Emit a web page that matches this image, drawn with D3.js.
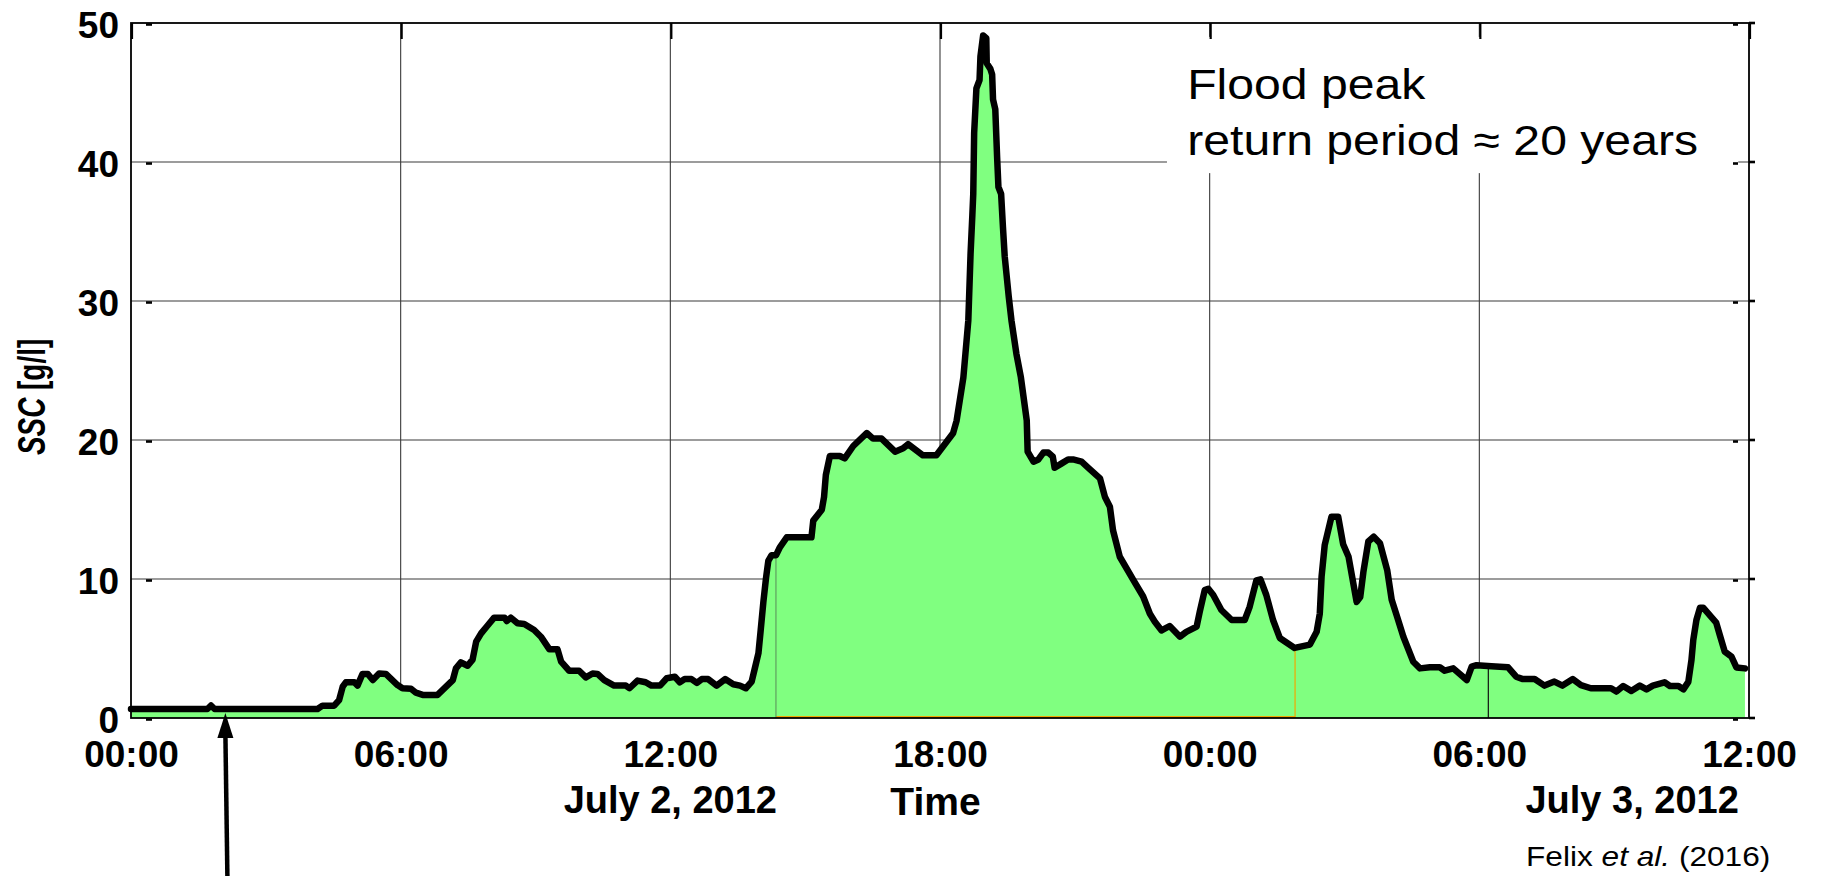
<!DOCTYPE html>
<html>
<head>
<meta charset="utf-8">
<script src="https://cdn.jsdelivr.net/npm/d3@7"></script>
<style>
  html, body { margin: 0; padding: 0; background: #ffffff; }
  svg { display: block; }
</style>
</head>
<body>
<svg id="chart" width="1821" height="876"></svg>
<script>
// Suspended sediment concentration during the July 2012 flood.
// Time is given in hours after 00:00 on 2 July 2012.
const hours = [
  0, 1.70, 1.78, 1.86, 4.15, 4.26, 4.52, 4.63, 4.71, 4.78, 4.97, 5.04, 5.15, 5.27, 5.38, 5.52,
  5.67, 5.93, 6.04, 6.23, 6.34, 6.49, 6.82, 7.16, 7.23, 7.34, 7.49, 7.60, 7.68, 7.79, 7.93, 8.08,
  8.31, 8.36, 8.45, 8.60, 8.75, 8.97, 9.12, 9.31, 9.49, 9.57, 9.75, 9.97, 10.12, 10.27, 10.38, 10.53,
  10.75, 11.01, 11.09, 11.27, 11.45, 11.58, 11.77, 11.92, 12.10, 12.21, 12.32, 12.47, 12.59, 12.70, 12.84, 13.03,
  13.22, 13.40, 13.55, 13.68, 13.81, 13.88, 13.96, 14.01, 14.07, 14.13, 14.18, 14.25, 14.35, 14.44, 14.59, 15.14,
  15.18, 15.37, 15.42, 15.46, 15.55, 15.77, 15.88, 16.07, 16.37, 16.51, 16.70, 17.00, 17.18, 17.29, 17.62, 17.92,
  18.29, 18.37, 18.52, 18.63, 18.68, 18.72, 18.74, 18.76, 18.81, 18.88, 18.90, 18.96, 19.03, 19.04, 19.12, 19.16,
  19.18, 19.23, 19.27, 19.30, 19.36, 19.40, 19.44, 19.53, 19.59, 19.70, 19.80, 19.93, 19.95, 20.08, 20.19, 20.30,
  20.41, 20.51, 20.55, 20.70, 20.85, 20.96, 21.15, 21.30, 21.56, 21.67, 21.78, 21.85, 22.00, 22.30, 22.52, 22.67,
  22.78, 22.93, 23.11, 23.34, 23.48, 23.71, 23.78, 23.89, 23.97, 24.08, 24.26, 24.49, 24.78, 24.89, 25.04, 25.13,
  25.26, 25.41, 25.56, 25.89, 26.23, 26.38, 26.45, 26.49, 26.56, 26.71, 26.86, 26.97, 27.09, 27.27, 27.35, 27.42,
  27.53, 27.65, 27.79, 27.86, 27.95, 28.05, 28.16, 28.31, 28.53, 28.68, 28.90, 29.12, 29.23, 29.42, 29.72, 29.83,
  29.94, 30.27, 30.64, 30.82, 30.97, 31.23, 31.45, 31.67, 31.85, 32.08, 32.26, 32.48, 32.93, 33.05, 33.20, 33.38,
  33.57, 33.72, 33.86, 34.12, 34.24, 34.43, 34.54, 34.65, 34.72, 34.76, 34.83, 34.91, 34.98, 35.27, 35.35, 35.46,
  35.61, 35.72, 35.91
];
const ssc = [
  0.65, 0.65, 0.90, 0.65, 0.65, 0.89, 0.89, 1.29, 2.25, 2.57, 2.57, 2.33, 3.17, 3.17, 2.73, 3.20,
  3.17, 2.37, 2.14, 2.10, 1.82, 1.66, 1.66, 2.73, 3.57, 4.00, 3.76, 4.20, 5.49, 6.09, 6.64, 7.22,
  7.22, 6.98, 7.22, 6.81, 6.76, 6.33, 5.85, 4.94, 4.94, 4.05, 3.40, 3.40, 2.92, 3.20, 3.17, 2.73,
  2.33, 2.33, 2.14, 2.69, 2.57, 2.33, 2.33, 2.86, 2.97, 2.57, 2.80, 2.80, 2.53, 2.80, 2.80, 2.33,
  2.80, 2.43, 2.33, 2.14, 2.62, 3.57, 4.65, 6.30, 8.35, 10.10, 11.30, 11.70, 11.70, 12.30, 13.00, 13.00,
  14.20, 14.98, 15.90, 17.48, 18.85, 18.85, 18.68, 19.57, 20.50, 20.10, 20.10, 19.16, 19.40, 19.70, 18.90, 18.90,
  20.48, 21.40, 24.50, 28.60, 33.40, 36.20, 37.70, 42.10, 45.30, 45.90, 47.60, 49.10, 48.90, 47.10, 46.70, 46.30,
  44.50, 43.80, 40.40, 38.20, 37.70, 35.35, 33.20, 30.30, 28.60, 26.20, 24.50, 21.40, 19.16, 18.44, 18.60, 19.10,
  19.10, 18.80, 18.00, 18.30, 18.60, 18.60, 18.44, 18.00, 17.24, 15.90, 15.20, 13.50, 11.60, 9.94, 8.74, 7.50,
  6.93, 6.30, 6.62, 5.85, 6.20, 6.57, 7.65, 9.20, 9.30, 8.85, 7.77, 7.05, 7.05, 8.00, 9.90, 9.97,
  8.85, 7.05, 5.76, 5.04, 5.28, 6.20, 7.50, 10.17, 12.45, 14.48, 14.48, 12.50, 11.60, 8.35, 8.70, 10.50,
  12.70, 13.04, 12.57, 11.72, 10.64, 8.50, 7.40, 5.85, 4.05, 3.57, 3.65, 3.65, 3.40, 3.57, 2.73, 3.69,
  3.80, 3.73, 3.65, 2.97, 2.80, 2.80, 2.33, 2.62, 2.33, 2.80, 2.37, 2.14, 2.14, 1.90, 2.30, 1.95,
  2.33, 2.06, 2.33, 2.57, 2.30, 2.30, 2.06, 2.60, 4.17, 5.61, 7.05, 7.94, 7.94, 6.86, 5.97, 4.77,
  4.41, 3.64, 3.57
];

// Axis ticks and labels
const xTickHours = [0, 6, 12, 18, 24, 30, 36];
const yTicks = [0, 10, 20, 30, 40, 50];
const dateLabels = ["July 2, 2012", "July 3, 2012"];
const dateLabelHours = [12, 33.4];
const xTitle = "Time";
const noteLines = ["Flood peak", "return period \u2248 20 years"];
const sourceNote = ["Felix ", "et al.", " (2016)"];
// Hour of the event marked by the arrow below the time axis
const arrowHour = 2.1;
// Hours where the filled record is split into separate patches
const seamHours = [14.35, 25.9, 30.2];

const start = Date.UTC(2012, 6, 2, 0, 0);
const toDate = h => new Date(start + h * 3600 * 1000);
const data = hours.map((h, i) => ({ t: toDate(h), h: h, v: ssc[i] }));

const margin = { left: 131, top: 23, right: 72, bottom: 158 };
const W = 1821, H = 876;
const iw = W - margin.left - margin.right;
const ih = H - margin.top - margin.bottom;

const x = d3.scaleUtc().domain([toDate(0), toDate(36)]).range([0, iw]);
const y = d3.scaleLinear().domain([0, 50]).range([ih, 0]);

const valueAt = h => {
  const i = d3.bisector(d => d.h).left(data, h);
  if (i <= 0) return data[0].v;
  if (i >= data.length) return data[data.length - 1].v;
  const a = data[i - 1], b = data[i];
  return a.v + (b.v - a.v) * (h - a.h) / (b.h - a.h);
};

const svg = d3.select("#chart");
const g = svg.append("g").attr("transform", `translate(${margin.left},${margin.top})`);

const font = "'Liberation Sans', Arial, Helvetica, sans-serif";

// Grid
g.append("g").selectAll("line").data(xTickHours.slice(1, -1)).join("line")
  .attr("x1", d => x(toDate(d))).attr("x2", d => x(toDate(d)))
  .attr("y1", 0).attr("y2", ih)
  .attr("stroke", "#3a3a3a").attr("stroke-width", 1.1);
g.append("g").selectAll("line").data(yTicks.slice(1, -1)).join("line")
  .attr("x1", 0).attr("x2", iw)
  .attr("y1", d => y(d)).attr("y2", d => y(d))
  .attr("stroke", "#3a3a3a").attr("stroke-width", 1.1);

// White box behind the annotation
g.append("rect")
  .attr("x", x(toDate(23.05))).attr("y", y(49.0))
  .attr("width", x(toDate(35.76)) - x(toDate(23.05)))
  .attr("height", y(39.2) - y(49.0))
  .attr("fill", "#ffffff");

// Filled record
const area = d3.area().x(d => x(d.t)).y0(y(0)).y1(d => y(d.v));
g.append("path").datum(data).attr("d", area).attr("fill", "#80ff80");

// Orange layer edge along the base
g.append("line")
  .attr("x1", x(toDate(seamHours[0]))).attr("x2", x(toDate(seamHours[1])))
  .attr("y1", y(0) - 1).attr("y2", y(0) - 1)
  .attr("stroke", "#f0a800").attr("stroke-width", 2);

// Patch seams
const seamColors = ["#5f9f5f", "#f0a800", "#111111"];
g.append("g").selectAll("line").data(seamHours).join("line")
  .attr("x1", d => x(toDate(d))).attr("x2", d => x(toDate(d)))
  .attr("y1", y(0)).attr("y2", d => y(valueAt(d)))
  .attr("stroke", (d, i) => seamColors[i]).attr("stroke-width", 1.2);

// Concentration line
const line = d3.line().x(d => x(d.t)).y(d => y(d.v));
g.append("path").datum(data).attr("d", line)
  .attr("fill", "none").attr("stroke", "#000000")
  .attr("stroke-width", 6.5).attr("stroke-linejoin", "round").attr("stroke-linecap", "round");

// Frame
g.append("rect").attr("x", 0).attr("y", 0).attr("width", iw).attr("height", ih)
  .attr("fill", "none").attr("stroke", "#000").attr("stroke-width", 1.8);

// Small tick marks inside the frame
g.append("g").selectAll("line").data(yTicks).join("line")
  .attr("x1", 15).attr("x2", 21)
  .attr("y1", d => y(d) + 1.5).attr("y2", d => y(d) + 1.5)
  .attr("stroke", "#000").attr("stroke-width", 2.6);
g.append("g").selectAll("line").data(yTicks).join("line")
  .attr("x1", iw).attr("x2", iw + 6)
  .attr("y1", d => y(d)).attr("y2", d => y(d))
  .attr("stroke", "#000").attr("stroke-width", 2.6);
g.append("g").selectAll("line").data(yTicks).join("line")
  .attr("x1", iw - 16).attr("x2", iw - 11)
  .attr("y1", d => y(d) + 1.5).attr("y2", d => y(d) + 1.5)
  .attr("stroke", "#000").attr("stroke-width", 2.6);
g.append("g").selectAll("line").data(xTickHours).join("line")
  .attr("x1", d => x(toDate(d)) + 1).attr("x2", d => x(toDate(d)) + 1)
  .attr("y1", 0).attr("y2", 16)
  .attr("stroke", "#000").attr("stroke-width", 2.2);

// Axes
const xAxis = d3.axisBottom(x)
  .tickValues(xTickHours.map(toDate))
  .tickFormat(d3.utcFormat("%H:%M"))
  .tickSize(0).tickPadding(23);
const gx = g.append("g").attr("transform", `translate(0,${ih})`).call(xAxis);
gx.select(".domain").remove();
gx.selectAll("text")
  .attr("font-family", font).attr("font-weight", "bold")
  .attr("font-size", 37).attr("fill", "#000");

const yAxis = d3.axisLeft(y).tickValues(yTicks).tickFormat(d3.format("d"))
  .tickSize(0).tickPadding(12);
const gy = g.append("g").call(yAxis);
gy.select(".domain").remove();
gy.selectAll("text")
  .attr("font-family", font).attr("font-weight", "bold")
  .attr("font-size", 37).attr("dy", "0.4em").attr("fill", "#000");

// Date labels and axis titles
g.append("g").selectAll("text").data(dateLabels).join("text")
  .attr("x", (d, i) => x(toDate(dateLabelHours[i])))
  .attr("y", ih + 95)
  .attr("text-anchor", "middle")
  .attr("font-family", font).attr("font-weight", "bold")
  .attr("font-size", 38).attr("fill", "#000")
  .text(d => d);

g.append("text")
  .attr("x", x(toDate(17.9))).attr("y", ih + 97)
  .attr("text-anchor", "middle")
  .attr("font-family", font).attr("font-weight", "bold")
  .attr("font-size", 39).attr("fill", "#000")
  .text(xTitle);

const yTitle = svg.append("g")
  .attr("transform", `translate(45,${margin.top + y(23.1)}) rotate(-90) scale(0.93,1.3)`)
  .append("text")
  .attr("text-anchor", "middle")
  .attr("font-family", font).attr("font-weight", "bold")
  .attr("font-size", 30).attr("fill", "#000");
yTitle.append("tspan").attr("font-style", "italic").text("SSC");
yTitle.append("tspan").text(" [g/l]");

// Annotation
const note = g.append("g")
  .attr("transform", `translate(${x(toDate(23.5))},0) scale(1.12,1)`);
note.selectAll("text").data(noteLines).join("text")
  .attr("x", 0).attr("y", (d, i) => y(44.5) + i * 56)
  .attr("font-family", font).attr("font-size", 43).attr("fill", "#000")
  .text(d => d);

// Source note
const src = svg.append("g").attr("transform", "translate(1526,866) scale(1.13,1)")
  .append("text")
  .attr("font-family", font).attr("font-size", 28).attr("fill", "#000");
src.selectAll("tspan").data(sourceNote).join("tspan")
  .attr("font-style", (d, i) => i === 1 ? "italic" : "normal")
  .text(d => d);

// Arrow marking the event below the time axis
const ax = margin.left + x(toDate(arrowHour));
const tipY = margin.top + y(0) - 5;
svg.append("line")
  .attr("x1", ax + 2).attr("y1", H)
  .attr("x2", ax).attr("y2", tipY + 20)
  .attr("stroke", "#000").attr("stroke-width", 4.5);
svg.append("path")
  .attr("d", `M${ax},${tipY} L${ax - 8},${tipY + 25} L${ax + 8},${tipY + 25} Z`)
  .attr("fill", "#000");
</script>
</body>
</html>
